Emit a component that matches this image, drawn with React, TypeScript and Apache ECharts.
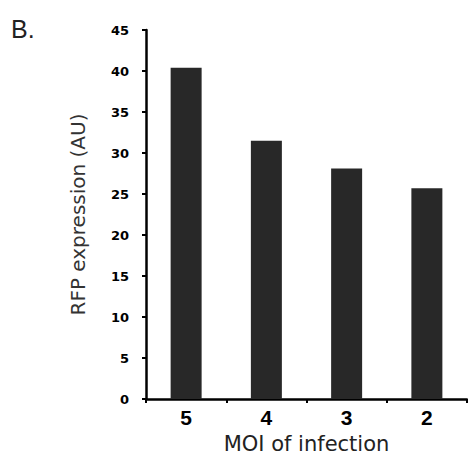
import React, { useEffect, useRef } from "react";
import * as echarts from "echarts";

const categories = ["5", "4", "3", "2"];
const values = [40.4, 31.5, 28.1, 25.7];
const yTicks = { min: 0, max: 45, interval: 5 };
const panelLabel = "B.";
const xName = "MOI of infection";
const yName = "RFP expression (AU)";

export default function App() {
  const ref = useRef<HTMLDivElement>(null);
  useEffect(() => {
    document.body.style.margin = "0";
    if (!ref.current) return;
    const chart = echarts.init(ref.current, null, { renderer: "svg" });
    chart.setOption({
      animation: false,
      backgroundColor: "#ffffff",
      grid: { left: 146, right: 1, top: 30, bottom: 55 },
      graphic: [
        {
          type: "text",
          left: 11,
          top: 16,
          style: {
            text: panelLabel,
            fontSize: 25,
            fontFamily: "Liberation Sans, Arial, sans-serif",
            fill: "#222",
          },
        },
      ],
      xAxis: {
        type: "category",
        data: categories,
        name: xName,
        nameLocation: "middle",
        nameGap: 34,
        nameTextStyle: {
          fontSize: 21,
          fontFamily: "DejaVu Sans, sans-serif",
          color: "#222",
          verticalAlign: "top",
        },
        axisLine: { lineStyle: { color: "#000", width: 2.5 } },
        axisTick: { show: true, length: 4, lineStyle: { color: "#000", width: 2 } },
        axisLabel: {
          fontSize: 21,
          fontWeight: "bold",
          fontFamily: "Liberation Sans, Arial, sans-serif",
          color: "#000",
          margin: 8,
        },
      },
      yAxis: {
        type: "value",
        min: yTicks.min,
        max: yTicks.max,
        interval: yTicks.interval,
        name: yName,
        nameLocation: "middle",
        nameGap: 58,
        nameRotate: 90,
        nameTextStyle: {
          fontSize: 20,
          fontFamily: "DejaVu Sans, sans-serif",
          color: "#333",
        },
        splitLine: { show: false },
        axisLine: { show: true, lineStyle: { color: "#000", width: 2.5 } },
        axisTick: { show: true, length: 4, lineStyle: { color: "#000", width: 2 } },
        axisLabel: {
          fontSize: 13,
          fontWeight: "bold",
          fontFamily: "DejaVu Sans, sans-serif",
          color: "#000",
          margin: 17,
        },
      },
      series: [
        {
          type: "bar",
          data: values,
          barWidth: 31,
          itemStyle: { color: "#282828" },
        },
      ],
    });
    return () => chart.dispose();
  }, []);
  return <div ref={ref} style={{ width: 468, height: 459 }} />;
}
